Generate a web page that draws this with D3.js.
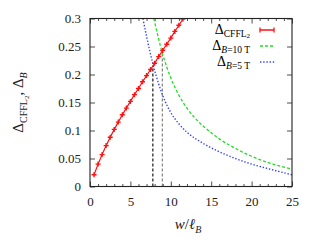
<!DOCTYPE html>
<html>
<head>
<meta charset="utf-8">
<script src="https://cdn.jsdelivr.net/npm/d3@7"></script>
<style>
	html, body { margin: 0; padding: 0; background: #fff; }
	svg { display: block; font-family: "Liberation Serif", "DejaVu Serif", serif; }
</style>
</head>
<body>
<div class="chart"></div>
<script>
;(function(window, document, undefined) {

	'use strict';

	// red points (CFFL2 gap)
	var cfflW = [0.5, 1, 1.5, 2, 2.5, 3, 3.5, 4, 4.5, 5, 5.5, 6, 6.5, 7, 7.5, 8, 8.5, 9, 9.5, 10, 10.5, 11, 11.5];
	var cfflGap = [0.021, 0.040, 0.057, 0.073, 0.088, 0.102, 0.115, 0.128, 0.140, 0.152, 0.164, 0.175, 0.187, 0.198, 0.209, 0.220, 0.232, 0.243, 0.254, 0.265, 0.277, 0.288, 0.299];

	// B = 10 T
	var b10W = [7.9, 9, 10, 11, 12, 13, 14, 15, 16, 18, 20, 22, 25];
	var b10Gap = [0.300, 0.236, 0.194, 0.163, 0.140, 0.122, 0.108, 0.096, 0.085, 0.068, 0.054, 0.043, 0.031];

	// B = 5 T
	var b5W = [6.55, 7, 7.8, 8.5, 9.3, 10, 11, 12, 13, 14, 15, 16, 18, 20, 22, 25];
	var b5Gap = [0.300, 0.268, 0.218, 0.183, 0.152, 0.132, 0.112, 0.097, 0.086, 0.077, 0.069, 0.062, 0.050, 0.040, 0.032, 0.021];

	// crossings marked by dashed drops
	var crossW = [7.78, 8.95];
	var crossGap = [0.216, 0.239];
	var crossColor = ['#000', '#777'];

	var xTicks = [0, 5, 10, 15, 20, 25];
	var yTicks = [0, 0.05, 0.1, 0.15, 0.2, 0.25, 0.3];
	var yTickLabels = ['0', '0.05', '0.1', '0.15', '0.2', '0.25', '0.3'];

	function zip(xs, ys) {
		return xs.map(function(x, i) { return { x: x, y: ys[i] }; });
	}

	function render() {
		var W = 314, H = 245;
		var m = { top: 18.5, right: 22, bottom: 58.5, left: 90 };
		var w = W - m.left - m.right;
		var h = H - m.top - m.bottom;

		var svg = d3.select('.chart').append('svg')
			.attr('width', W)
			.attr('height', H);

		var g = svg.append('g').attr('transform', 'translate(' + m.left + ',' + m.top + ')');

		var x = d3.scaleLinear().domain([0, 25]).range([0, w]);
		var y = d3.scaleLinear().domain([0, 0.3]).range([h, 0]);

		svg.append('defs').append('clipPath').attr('id', 'clip')
			.append('rect').attr('width', w).attr('height', h);

		// ticks, all pointing inward, mirrored
		var minor = d3.range(0, 26, 1).filter(function(d) { return d % 5 !== 0; });
		g.append('g').attr('transform', 'translate(0,' + h + ')')
			.call(d3.axisBottom(x).tickValues(minor).tickSize(-2.5).tickFormat(''))
			.call(clean);
		g.append('g')
			.call(d3.axisTop(x).tickValues(minor).tickSize(-2.5).tickFormat(''))
			.call(clean);
		g.append('g').attr('transform', 'translate(0,' + h + ')')
			.call(d3.axisBottom(x).tickValues(xTicks).tickSize(-5).tickPadding(10).tickFormat(d3.format('d')))
			.call(clean);
		g.append('g')
			.call(d3.axisTop(x).tickValues(xTicks).tickSize(-5).tickFormat(''))
			.call(clean);
		g.append('g')
			.call(d3.axisLeft(y).tickValues(yTicks).tickSize(-5).tickPadding(9)
				.tickFormat(function(d, i) { return yTickLabels[i]; }))
			.call(clean);
		g.append('g').attr('transform', 'translate(' + w + ',0)')
			.call(d3.axisRight(y).tickValues(yTicks).tickSize(-5).tickFormat(''))
			.call(clean);

		g.selectAll('.tick text')
			.attr('font-size', 13)
			.attr('font-family', '"Liberation Serif", serif')
			.attr('fill', '#222');

		function clean(sel) {
			sel.select('.domain').remove();
			sel.selectAll('.tick line').attr('stroke', '#222').attr('stroke-width', 0.8);
		}

		var plot = g.append('g').attr('clip-path', 'url(#clip)');

		// dashed drops at crossings
		plot.selectAll('line.drop')
			.data(zip(crossW, crossGap))
			.enter()
			.append('line')
			.attr('class', 'drop')
			.attr('x1', function(d) { return x(d.x); })
			.attr('x2', function(d) { return x(d.x); })
			.attr('y1', y(0))
			.attr('y2', function(d) { return y(d.y); })
			.attr('stroke', function(d, i) { return crossColor[i]; })
			.attr('stroke-width', 1.1)
			.attr('stroke-dasharray', '3,2');

		var line = d3.line()
			.x(function(d) { return x(d.x); })
			.y(function(d) { return y(d.y); })
			.curve(d3.curveMonotoneX);

		plot.append('path')
			.datum(zip(b10W, b10Gap))
			.attr('d', line)
			.attr('fill', 'none')
			.attr('stroke', '#22dd22')
			.attr('stroke-width', 1.3)
			.attr('stroke-dasharray', '3,2');

		plot.append('path')
			.datum(zip(b5W, b5Gap))
			.attr('d', line)
			.attr('fill', 'none')
			.attr('stroke', '#3344ff')
			.attr('stroke-width', 1.4)
			.attr('stroke-dasharray', '1.4,1.8');

		var red = '#ff1111';
		var pts = zip(cfflW, cfflGap);
		plot.append('path')
			.datum(pts)
			.attr('d', d3.line().x(function(d) { return x(d.x); }).y(function(d) { return y(d.y); }))
			.attr('fill', 'none')
			.attr('stroke', red)
			.attr('stroke-width', 1.2);

		plot.selectAll('path.pt')
			.data(pts)
			.enter()
			.append('path')
			.attr('class', 'pt')
			.attr('transform', function(d) { return 'translate(' + x(d.x) + ',' + y(d.y) + ')'; })
			.attr('d', 'M-2.5,0H2.5M0,-2.5V2.5')
			.attr('stroke', red)
			.attr('stroke-width', 1.4)
			.attr('fill', 'none');

		// frame
		g.append('rect')
			.attr('width', w)
			.attr('height', h)
			.attr('fill', 'none')
			.attr('stroke', '#222')
			.attr('stroke-width', 1.1);

		// legend
		var leg = svg.append('g');
		var rows = [30, 46, 62];
		var t0 = leg.append('text').attr('x', 250).attr('y', rows[0] + 4).attr('text-anchor', 'end').attr('font-size', 14);
		t0.append('tspan').text('Δ');
		t0.append('tspan').attr('font-size', 9.5).attr('dy', 2.5).text('CFFL');
		t0.append('tspan').attr('font-size', 7).attr('dy', 1.5).text('2');

		var t1 = leg.append('text').attr('x', 250).attr('y', rows[1] + 4).attr('text-anchor', 'end').attr('font-size', 14);
		t1.append('tspan').text('Δ');
		t1.append('tspan').attr('font-size', 9.5).attr('dy', 2.5).attr('font-style', 'italic').text('B');
		t1.append('tspan').attr('font-size', 9.5).text('=10 T');

		var t2 = leg.append('text').attr('x', 250).attr('y', rows[2] + 4).attr('text-anchor', 'end').attr('font-size', 14);
		t2.append('tspan').text('Δ');
		t2.append('tspan').attr('font-size', 9.5).attr('dy', 2.5).attr('font-style', 'italic').text('B');
		t2.append('tspan').attr('font-size', 9.5).text('=5 T');

		leg.append('path')
			.attr('d', 'M260,' + rows[0] + 'H274M260,' + (rows[0] - 2.5) + 'V' + (rows[0] + 2.5) + 'M274,' + (rows[0] - 2.5) + 'V' + (rows[0] + 2.5))
			.attr('stroke', red).attr('stroke-width', 1.3).attr('fill', 'none');
		leg.append('line').attr('x1', 260).attr('x2', 275).attr('y1', rows[1]).attr('y2', rows[1])
			.attr('stroke', '#22dd22').attr('stroke-width', 1.3).attr('stroke-dasharray', '3,2');
		leg.append('line').attr('x1', 260).attr('x2', 275).attr('y1', rows[2]).attr('y2', rows[2])
			.attr('stroke', '#3344ff').attr('stroke-width', 1.4).attr('stroke-dasharray', '1.4,1.8');

		// axis titles
		var yl = svg.append('text')
			.attr('transform', 'translate(23,' + (m.top + h / 2) + ') rotate(-90)')
			.attr('text-anchor', 'middle')
			.attr('font-size', 15)
			.attr('fill', '#222');
		yl.append('tspan').text('Δ');
		yl.append('tspan').attr('font-size', 10).attr('dy', 4).text('CFFL');
		yl.append('tspan').attr('font-size', 7).attr('dy', 2).text('2');
		yl.append('tspan').attr('dy', -6).text(', Δ');
		yl.append('tspan').attr('font-size', 10).attr('dy', 4).attr('font-style', 'italic').text('B');

		var xl = svg.append('text')
			.attr('x', m.left + w / 2 - 3)
			.attr('y', 229)
			.attr('text-anchor', 'middle')
			.attr('font-size', 15)
			.attr('fill', '#222');
		xl.append('tspan').attr('font-style', 'italic').text('w');
		xl.append('tspan').text('/');
		xl.append('tspan').attr('font-style', 'italic').text('ℓ');
		xl.append('tspan').attr('font-size', 10).attr('dy', 4).attr('font-style', 'italic').text('B');
	}

	render();

})(window, document);
</script>
</body>
</html>
